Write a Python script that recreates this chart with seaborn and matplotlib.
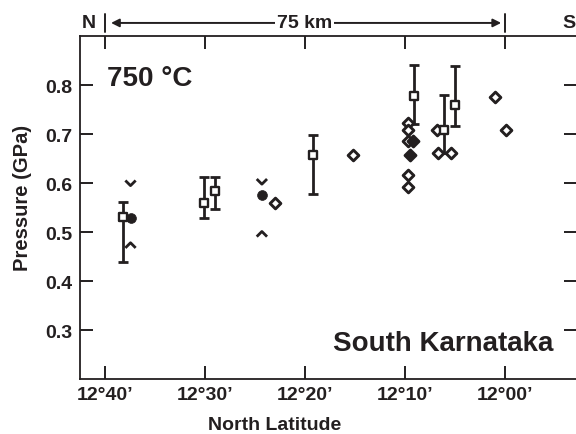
import numpy as np
import pandas as pd
import matplotlib
matplotlib.use('Agg')
import matplotlib.pyplot as plt
from matplotlib.path import Path
import seaborn as sns

# latitude given as arc-minutes north of 12°00'
sq_lat = [38.2, 30.1, 29.0, 19.2, 9.05, 6.05, 5.0]
sq_p = [0.531, 0.559, 0.584, 0.658, 0.778, 0.708, 0.759]
sq_hi = [0.561, 0.612, 0.612, 0.698, 0.841, 0.780, 0.838]
sq_lo = [0.440, 0.529, 0.547, 0.578, 0.720, 0.661, 0.717]

od_lat = [22.95, 15.2, 9.7, 9.7, 9.7, 9.7, 9.7, 6.8, 6.7, 5.35, 0.95, -0.1]
od_p = [0.559, 0.658, 0.722, 0.708, 0.686, 0.616, 0.591, 0.709, 0.661, 0.661, 0.775, 0.708]

fd_lat = [9.2, 9.5]
fd_p = [0.685, 0.657]

fc_lat = [37.45, 24.3]
fc_p = [0.529, 0.576]

vmax_lat = [37.45, 24.3]
vmax_p = [0.600, 0.603]
vmin_lat = [37.45, 24.3]
vmin_p = [0.473, 0.496]

xticks = [40, 30, 20, 10, 0]
xticklabels = ['12°40’', '12°30’', '12°20’', '12°10’', '12°00’']
yticks = [0.3, 0.4, 0.5, 0.6, 0.7, 0.8]

INK = '#231f20'

sns.set_theme(style='ticks')
plt.rcParams['font.family'] = ['Liberation Sans', 'DejaVu Sans']
plt.rcParams['font.weight'] = 'bold'
plt.rcParams['axes.labelweight'] = 'bold'

fig = plt.figure(figsize=(5.76, 4.35), dpi=100)
ax = fig.add_axes([0.139, 0.126, 0.862, 0.789])

# chevron markers (open paths)
chev_down = Path([(-1, 0.5), (0, -0.5), (1, 0.5)], [Path.MOVETO, Path.LINETO, Path.LINETO])
chev_up = Path([(-1, -0.5), (0, 0.5), (1, -0.5)], [Path.MOVETO, Path.LINETO, Path.LINETO])

# error bars for the squares
sq = pd.DataFrame({'lat': sq_lat, 'p': sq_p, 'hi': sq_hi, 'lo': sq_lo})
yerr = np.vstack([sq['p'] - sq['lo'], sq['hi'] - sq['p']])
ax.errorbar(sq['lat'], sq['p'], yerr=yerr, fmt='none', ecolor=INK,
            elinewidth=2.0, capsize=3.8, capthick=2.0, zorder=2)
sns.scatterplot(data=sq, x='lat', y='p', marker='s', s=32, color='white',
                edgecolor=INK, linewidth=1.7, ax=ax, zorder=4)

od = pd.DataFrame({'lat': od_lat, 'p': od_p})
sns.scatterplot(data=od, x='lat', y='p', marker='D', s=30, color='white',
                edgecolor=INK, linewidth=2.1, ax=ax, zorder=3)

fd = pd.DataFrame({'lat': fd_lat, 'p': fd_p})
sns.scatterplot(data=fd, x='lat', y='p', marker='D', s=32, color=INK,
                edgecolor=INK, linewidth=2.0, ax=ax, zorder=3)

fc = pd.DataFrame({'lat': fc_lat, 'p': fc_p})
sns.scatterplot(data=fc, x='lat', y='p', marker='o', s=50, color=INK,
                edgecolor=INK, linewidth=0.5, ax=ax, zorder=3)

vmax = pd.DataFrame({'lat': vmax_lat, 'p': vmax_p})
sns.scatterplot(data=vmax, x='lat', y='p', marker=chev_down, s=55,
                facecolors='none', edgecolor=INK, linewidth=2.0, ax=ax, zorder=3)
vmin = pd.DataFrame({'lat': vmin_lat, 'p': vmin_p})
sns.scatterplot(data=vmin, x='lat', y='p', marker=chev_up, s=55,
                facecolors='none', edgecolor=INK, linewidth=2.0, ax=ax, zorder=3)

ax.set_xlim(42.5, -7.2)
ax.set_ylim(0.2, 0.9)
ax.set_xticks(xticks)
ax.set_xticklabels(xticklabels)
ax.set_yticks(yticks)
ax.set_yticklabels([f'{v:.1f}' for v in yticks])
ax.tick_params(axis='both', direction='in', length=9.5, width=1.4, colors=INK,
               labelsize=14, top=True, right=True)
ax.tick_params(axis='y', pad=5.5)
ax.tick_params(axis='x', pad=5)
for s in ax.spines.values():
    s.set_color(INK)
    s.set_linewidth(1.3)

ax.set_xlabel('North Latitude', fontsize=14, color=INK)
ax.set_ylabel('Pressure (GPa)', fontsize=14.5, color=INK)
ax.xaxis.set_label_coords(0.392, -0.106)
ax.yaxis.set_label_coords(-0.097, 0.532)

ax.text(0.055, 0.877, '750 °C', transform=ax.transAxes, fontsize=20,
        fontweight='bold', color=INK, va='center', ha='left')
ax.text(0.953, 0.085, 'South Karnataka', transform=ax.transAxes, fontsize=20,
        fontweight='bold', color=INK, va='baseline', ha='right')

# scale bar above the plot
trans = ax.get_xaxis_transform()
for xb in [40, 0]:
    ax.plot([xb, xb], [1.012, 1.064], transform=trans, color=INK, lw=1.4, clip_on=False)
ax.annotate('', xy=(39.4, 1.038), xytext=(0.35, 1.038), xycoords=trans, textcoords=trans,
            arrowprops=dict(arrowstyle='<|-|>', color=INK, lw=1.4,
                            mutation_scale=12, shrinkA=0, shrinkB=0))
ax.text(20, 1.038, '75 km', transform=trans, ha='center', va='center', fontsize=14,
        fontweight='bold', color=INK,
        bbox=dict(boxstyle='square,pad=0.1', facecolor='white', edgecolor='none'))
ax.text(41.65, 1.038, 'N', transform=trans, ha='center', va='center', fontsize=14,
        fontweight='bold', color=INK)
ax.text(-6.45, 1.038, 'S', transform=trans, ha='center', va='center', fontsize=14,
        fontweight='bold', color=INK)

fig.savefig('out.png', dpi=100)
